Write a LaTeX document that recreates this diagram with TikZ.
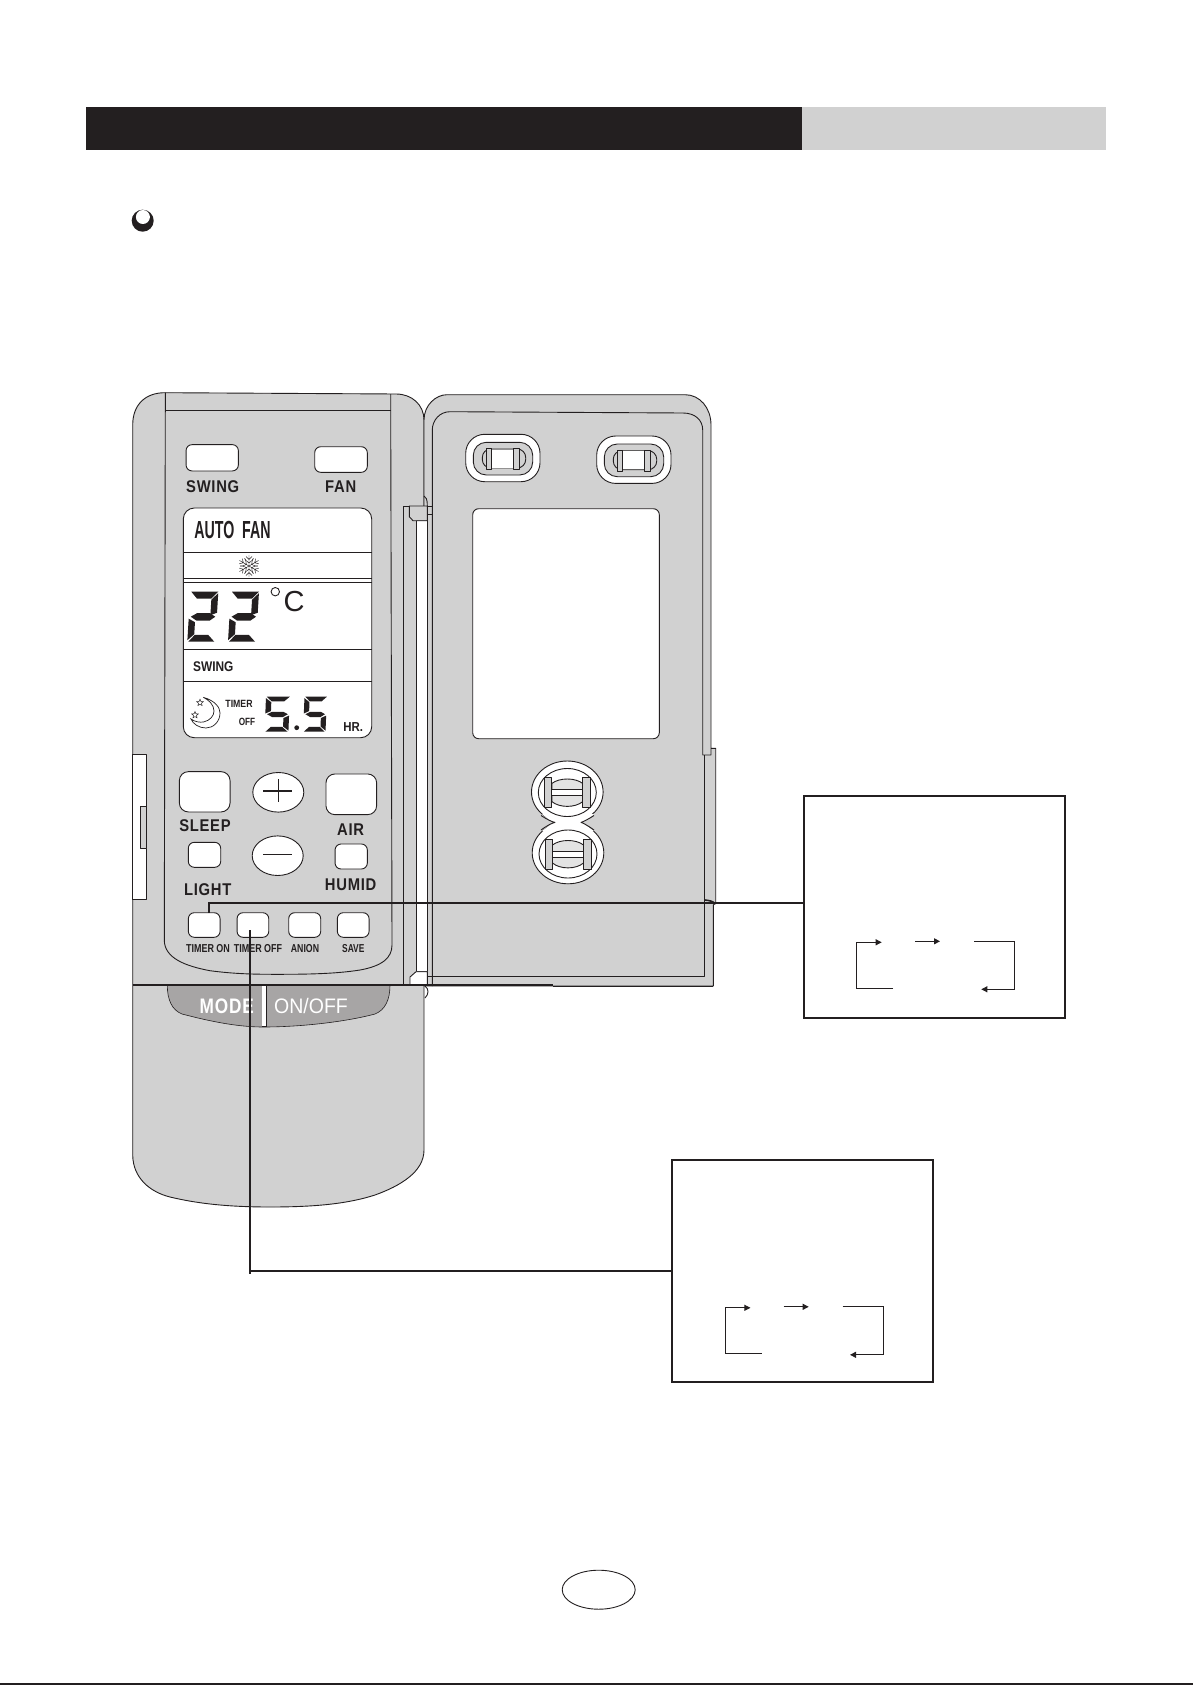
\documentclass[tikz,border=0pt]{standalone}
\usepackage{fontspec}
\setmainfont{Liberation Sans}
\newfontfamily\spaced[LetterSpace=5]{Liberation Sans}
\usetikzlibrary{arrows.meta,shapes.geometric}
\definecolor{ink}{HTML}{231F20}
\definecolor{body}{HTML}{D1D1D1}
\definecolor{modegray}{HTML}{A7A5A5}
\newcommand\sx[2]{\scalebox{#1}[1]{#2}}
\tikzset{
  outline/.style={draw=ink,line width=.9pt,line join=round},
  shell/.style={outline,fill=body},
  btn/.style={draw=ink,fill=white,line width=.9pt,inner sep=0pt,outer sep=0pt,rounded corners=6pt},
  keylabel/.style={inner sep=0pt,text=ink,font=\spaced\bfseries\fontsize{17}{17}\selectfont},
  smalllabel/.style={inner sep=0pt,text=ink,font=\bfseries\fontsize{11.5}{11.5}\selectfont},
  lcdlabel/.style={inner sep=0pt,text=ink},
  infobox/.style={draw=ink,fill=white,line width=1.9pt,inner sep=0pt,outer sep=0pt,minimum width=261pt,minimum height=221.5pt},
  leader/.style={draw=ink,line width=1.6pt},
  cyclearrow/.style={draw=ink,line width=.9pt,-{Triangle[length=6pt,width=6pt]}},
  lcdline/.style={draw=ink,line width=.8pt},
  starmark/.style={star,star points=5,star point ratio=2.2,draw=ink,line width=.5pt,inner sep=0pt,minimum size=7pt}
}
% seven segment pieces, 28 wide, 50 high
\newcommand\segA{\fill[ink] (1,0)--(28,0)--(21.5,6.8)--(7,6.8)--cycle;}
\newcommand\segG{\fill[ink] (2,25)--(8,21.5)--(21,21.5)--(26.5,25)--(21,29)--(8,29)--cycle;}
\newcommand\segD{\fill[ink] (1,50)--(27,50)--(20.5,43.2)--(7,43.2)--cycle;}
\newcommand\segB{\fill[ink] (28,1.5)--(28,21)--(21.5,23.5)--(21.5,8)--cycle;}
\newcommand\segE{\fill[ink] (0,27)--(6.5,30.5)--(6.5,42.5)--(0,48.5)--cycle;}
\newcommand\segF{\fill[ink] (0,2)--(6.5,8)--(6.5,20.5)--(0,24)--cycle;}
\newcommand\segC{\fill[ink] (28,27)--(28,48.5)--(21.5,42.5)--(21.5,30.5)--cycle;}
\newcommand\digittwo{\segA\segB\segG\segE\segD}
\newcommand\digitfive{\segA\segF\segG\segC\segD}
\newcommand\ovalscrew[2]{\begin{scope}[shift={(#1,#2)}]
  \draw[outline,fill=white,rounded corners=19pt] (0,0) rectangle (74.3,47.4);
  \draw[outline,fill=body,rounded corners=13pt] (7.6,8) rectangle (67,40.7);
  \draw[outline,fill=body,rounded corners=8.5pt] (16.6,14.7) rectangle (60,33.7);
  \fill[white] (25.5,15.2) rectangle (47.8,33.2);
  \draw[outline,line width=.7pt,fill=body] (20.5,14) rectangle (25.5,35);
  \draw[outline,line width=.7pt,fill=body] (47.8,14) rectangle (53.2,35.2);
\end{scope}}
\newcommand\roundinner[2]{\begin{scope}[shift={(#1,#2)}]
  \draw[outline,fill=white] (0,0) ellipse (29pt and 24pt);
  \draw[outline,fill=body!60!white] (-15.5,-9) .. controls (-8,-15) and (8,-15) .. (15.5,-9) -- (15.5,9) .. controls (8,15.5) and (-8,15.5) .. (-15.5,9) -- cycle;
  \draw[outline,fill=white] (-15.5,-3) rectangle (15.5,3);
  \draw[outline,fill=body] (-23,-15) rectangle (-15.5,15);
  \draw[outline,fill=body] (15.5,-15) rectangle (23.5,15);
\end{scope}}
\newcommand\cyclearrows[3]{\begin{scope}[shift={(#1,#2)},name prefix=#3-]
  \coordinate (a0) at (893,988.3); \coordinate (a1) at (856.3,988.3); \coordinate (a2) at (856.3,942.3); \coordinate (a3) at (881.7,942.3);
  \coordinate (b0) at (915,941.3); \coordinate (b1) at (940,941.3);
  \coordinate (c0) at (974,941.3); \coordinate (c1) at (1014.3,941.3); \coordinate (c2) at (1014.3,989.3); \coordinate (c3) at (981.3,989.3);
  \draw[cyclearrow] (a0)--(a1)--(a2)--(a3);
  \draw[cyclearrow] (b0)--(b1);
  \draw[cyclearrow] (c0)--(c1)--(c2)--(c3);
\end{scope}}
\begin{document}
\begin{tikzpicture}[x=1pt,y=-1pt]
\useasboundingbox (0,0) rectangle (1193,1685);
\fill[white] (0,0) rectangle (1193,1685);
% header band
\fill[ink] (86,107) rectangle (802,150);
\fill[body] (802,107) rectangle (1106,150);
% bullet
\fill[ink] (142.7,220.7) circle (11pt);
\fill[white] (142.9,217) circle (7pt);
% remote body
\path[shell] (132.7,1155) -- (132.7,425) .. controls (132.7,405) and (145,392.7) .. (165,392.7)
  -- (396,394) .. controls (412,394) and (424,405) .. (424,420) -- (424,1150)
  .. controls (424,1172) and (400,1186) .. (375,1195) .. controls (350,1203) and (320,1207) .. (270,1207)
  .. controls (225,1207) and (195,1203) .. (170,1197) .. controls (150,1192) and (133,1178) .. (132.7,1155) -- cycle;
% door
\path[shell] (424,420) .. controls (424,405) and (436,394.7) .. (447,394.7) -- (685,394.7)
  .. controls (700,394.7) and (711,408) .. (711,425) -- (711,748.3) -- (715.7,748.3) -- (715.7,903)
  -- (713.3,905) -- (713.3,986) -- (424,986) -- cycle;
\draw[outline] (432.3,986) -- (432.3,430) .. controls (432.3,420) and (440,411.7) .. (450,411.7)
  -- (683,413) .. controls (695,413) and (702.7,420) .. (702.7,430) -- (702.7,755) -- (711,755) -- (711,748.3);
\draw[outline] (704.3,755) -- (704.3,976) -- (427.3,976);
% inner panel
\draw[outline] (165.3,392.7) -- (165.3,410.7) -- (164.3,940) .. controls (164.3,958) and (185,966) .. (210,970.7)
  .. controls (235,974) and (255,974.3) .. (276.7,974.3) .. controls (305,974.3) and (335,974) .. (360,970)
  .. controls (382,966) and (392,958) .. (392,945) -- (390.7,410.7) -- (390.7,394);
\draw[outline] (165.3,410.7) -- (390.7,410.7);
% side clip
\draw[outline,fill=white] (132.7,754) rectangle (146.7,899.3);
\draw[outline,fill=body] (140.7,806.7) rectangle (146.7,848.7);
% hinge column
\draw[outline] (403.3,506) -- (403.3,985);
\draw[outline] (403.3,506) -- (432.3,506);
\draw[outline] (427.3,514) -- (432.3,514);
\draw[outline,fill=white] (416,520.7) rectangle (427.3,971.7);
\draw[outline,fill=body] (409.3,506) -- (409.3,516.7) -- (413,520.7) -- (427.3,520.7) -- (427.3,506) -- cycle;
\draw[outline,fill=white] (416,971.7) -- (427.3,971.7) -- (427.3,985) -- (410,985) -- (410,977) -- cycle;
\draw[outline] (424,496) .. controls (426,497) and (427.3,499) .. (427.3,506);
\draw[outline] (425,986) .. controls (429,989) and (429,994) .. (425,998);
% mode / on-off key
\draw[draw=ink,line width=.6pt,fill=modegray] (167.3,985) -- (390,985) .. controls (390,1000) and (385,1010) .. (375,1014)
  .. controls (345,1022) and (300,1027) .. (263,1027) .. controls (235,1027) and (205,1020) .. (182,1014)
  .. controls (172,1010) and (167.3,1000) .. (167.3,985) -- cycle;
\fill[white] (261.7,985) rectangle (266,1026.5);
\draw[ink,line width=.9pt] (266.7,985) -- (266.7,1026.7);
\draw[ink,line width=.9pt] (261.7,1026.7) -- (266.7,1026.7);
\node[inner sep=0pt,text=white,font=\spaced\bfseries\fontsize{21}{21}\selectfont] (modelabel) at (226.7,1006) {\sx{.82}{MODE}};
\node[inner sep=0pt,text=white,font=\fontsize{21}{21}\selectfont] (onofflabel) at (311,1006) {\sx{.93}{ON/OFF}};
% front/door line
\draw[ink,line width=1.5pt] (132.7,985) -- (553,985);
\draw[outline] (553,986) -- (713.3,986);
% upper keys
\node[btn,minimum width=52.3pt,minimum height=26.3pt] (swingkey) at (212.2,457.8) {};
\node[btn,minimum width=52.6pt,minimum height=25.6pt] (fankey) at (341,459.5) {};
\node[keylabel] (swinglabel) at (212.7,487) {\sx{.87}{SWING}};
\node[keylabel] (fanlabel) at (340.7,487) {\sx{.87}{FAN}};
% LCD
\draw[outline,fill=white,rounded corners=11pt] (183.3,508) rectangle (371.7,737.7);
\draw[lcdline] (183.3,552.3) -- (371.7,552.3);
\draw[ink,line width=1.3pt] (183.3,578.7) -- (371.7,578.7);
\draw[lcdline] (183.3,582) -- (371.7,582);
\draw[lcdline] (183.3,649.3) -- (371.7,649.3);
\draw[ink,line width=1.2pt] (183.3,681.7) -- (371.7,681.7);
\node[lcdlabel,font=\bfseries\fontsize{24.7}{24.7}\selectfont] (autofan) at (232.5,530) {\sx{.575}{AUTO\ \ FAN}};
% snowflake
\begin{scope}[shift={(249,566)}]
\foreach \a in {0,60,...,300}{
  \draw[ink,line width=.45pt,rotate=\a] (0,0) -- (0,-11) (-3,-9.5) -- (0,-6.5) -- (3,-9.5) (-3,-5.5) -- (0,-3) -- (3,-5.5) (-4.5,-7.5) -- (-3,-5.5) (4.5,-7.5) -- (3,-5.5);
}
\end{scope}
% digits 22
\begin{scope}[shift={(190.3,591.7)},xslant=.06]\digittwo\end{scope}
\begin{scope}[shift={(231,591.7)},xslant=.06]\digittwo\end{scope}
\draw[ink,line width=.9pt] (275.3,591.7) circle (4.2pt);
\node[lcdlabel,font=\fontsize{29}{29}\selectfont] (celsius) at (294,601.7) {C};
\node[lcdlabel,font=\bfseries\fontsize{14}{14}\selectfont] (lcdswing) at (213.3,666.7) {\sx{.85}{SWING}};
% moon and stars
\draw[ink,line width=.7pt] (203.3,697.3) .. controls (216,701) and (220,708) .. (220,713)
  .. controls (220,722) and (213,728) .. (206,728) .. controls (199,728) and (193,724) .. (191,719)
  .. controls (195,722) and (200,722.5) .. (203.5,722) .. controls (210,720.5) and (214,716) .. (214,711)
  .. controls (214,705) and (209,700) .. (203.3,697.3);
\node[starmark] (stara) at (200,702.7) {};
\node[starmark] (starb) at (195,715) {};
\node[lcdlabel,font=\bfseries\fontsize{10.5}{10.5}\selectfont] (lcdtimer) at (239,704.3) {\sx{.83}{TIMER}};
\node[lcdlabel,font=\bfseries\fontsize{10.5}{10.5}\selectfont] (lcdoff) at (247,722) {\sx{.78}{OFF}};
% digits 5.5
\begin{scope}[shift={(266,696.7)},x=.85pt,y=-.7pt,xslant=.04]\digitfive\end{scope}
\fill[ink] (296.7,727.7) circle (2.4pt);
\begin{scope}[shift={(304.5,696.7)},x=.8pt,y=-.7pt,xslant=.04]\digitfive\end{scope}
\node[lcdlabel,font=\bfseries\fontsize{13}{13}\selectfont] (lcdhr) at (353.3,726.7) {\sx{.88}{HR.}};
% lower keys
\node[btn,rounded corners=9pt,minimum width=50.7pt,minimum height=40.3pt] (sleepkey) at (204.7,791.8) {};
\node[btn,rounded corners=9pt,minimum width=50.7pt,minimum height=40.7pt] (airkey) at (351.3,794.3) {};
\node[draw=ink,fill=white,line width=.9pt,ellipse,inner sep=0pt,minimum width=51pt,minimum height=39.6pt] (pluskey) at (278.3,792.3) {};
\draw[ink,line width=1.3pt] (263.3,791) -- (292.3,791) (278.3,779) -- (278.3,802.3);
\node[draw=ink,fill=white,line width=.9pt,ellipse,inner sep=0pt,minimum width=51pt,minimum height=39.6pt] (minuskey) at (277.7,855.7) {};
\draw[ink,line width=.7pt] (263.3,854.3) -- (292.3,854.3);
\node[btn,minimum width=32.4pt,minimum height=25pt] (lightkey) at (204.5,854.8) {};
\node[btn,minimum width=32.3pt,minimum height=25pt] (humidkey) at (351.2,856.5) {};
\node[btn,minimum width=31.7pt,minimum height=24.6pt] (timeronkey) at (204.2,925) {};
\node[btn,minimum width=31.7pt,minimum height=24.6pt] (timeroffkey) at (252.9,925) {};
\node[btn,minimum width=32pt,minimum height=24.6pt] (anionkey) at (304.7,925) {};
\node[btn,minimum width=31.7pt,minimum height=24.6pt] (savekey) at (353.2,925) {};
\node[keylabel] (sleeplabel) at (205,826) {\sx{.87}{SLEEP}};
\node[keylabel] (airlabel) at (350.7,830) {\sx{.87}{AIR}};
\node[keylabel] (lightlabel) at (207.7,889.3) {\sx{.87}{LIGHT}};
\node[keylabel] (humidlabel) at (350.7,884.3) {\sx{.87}{HUMID}};
\node[smalllabel] (timeronlabel) at (208,949) {\sx{.78}{TIMER ON}};
\node[smalllabel] (timerofflabel) at (258,949) {\sx{.78}{TIMER OFF}};
\node[smalllabel] (anionlabel) at (305,949) {\sx{.76}{ANION}};
\node[smalllabel] (savelabel) at (353.3,949) {\sx{.73}{SAVE}};
% door window and screws
\draw[outline,fill=white,rounded corners=6pt] (472.7,508.7) rectangle (659.3,738.7);
\ovalscrew{465.7}{434.3}
\ovalscrew{596.7}{436}
% figure-eight screws
\draw[outline,fill=white] (567.3,792) ellipse (35.8pt and 31pt);
\draw[outline,fill=white] (568,852.8) ellipse (35.8pt and 31pt);
\fill[white] (542,814) .. controls (550,821) and (553,822) .. (555,822.4) .. controls (553,823) and (550,825) .. (542,831) -- (594,831) .. controls (586,825) and (583,823) .. (581,822.4) .. controls (583,822) and (586,821) .. (594,814) -- cycle;
\draw[outline] (541,815.5) .. controls (548,820) and (552,821.8) .. (555,822.4) .. controls (552,823) and (548,825) .. (541,830);
\draw[outline] (594,815.5) .. controls (587,820) and (583,821.8) .. (581,822.4) .. controls (583,823) and (587,825) .. (594,830);
\roundinner{567.3}{792.5}
\roundinner{568}{854}
% call-out boxes
\node[infobox] (boxlight) at (934.3,906.9) {};
\node[infobox] (boxtimer) at (802.2,1271) {};
\cyclearrows{0}{0}{one}
\cyclearrows{-131.3}{365.5}{two}
% leaders
\draw[leader] ([xshift=4.5pt]timeronkey.north) |- ([yshift=4pt]boxlight.west);
\draw[ink,line width=1.6pt] (705,900) .. controls (709,900.5) and (713,901) .. (715.5,904);
\draw[ink,line width=1.2pt] ([xshift=-2.9pt,yshift=-5pt]timeroffkey.center) -- ([xshift=-2.9pt,yshift=-349pt]timeroffkey.center);
\draw[ink,line width=1.7pt] ([xshift=-2.9pt,yshift=-346pt]timeroffkey.center) -- (boxtimer.west);
% page number ellipse and foot rule
\node[draw=ink,line width=.9pt,ellipse,inner sep=0pt,minimum width=73pt,minimum height=39pt] (pagemark) at (598.7,1589.7) {};
\fill[ink] (0,1683.4) rectangle (1193,1685);
\end{tikzpicture}
\end{document}
